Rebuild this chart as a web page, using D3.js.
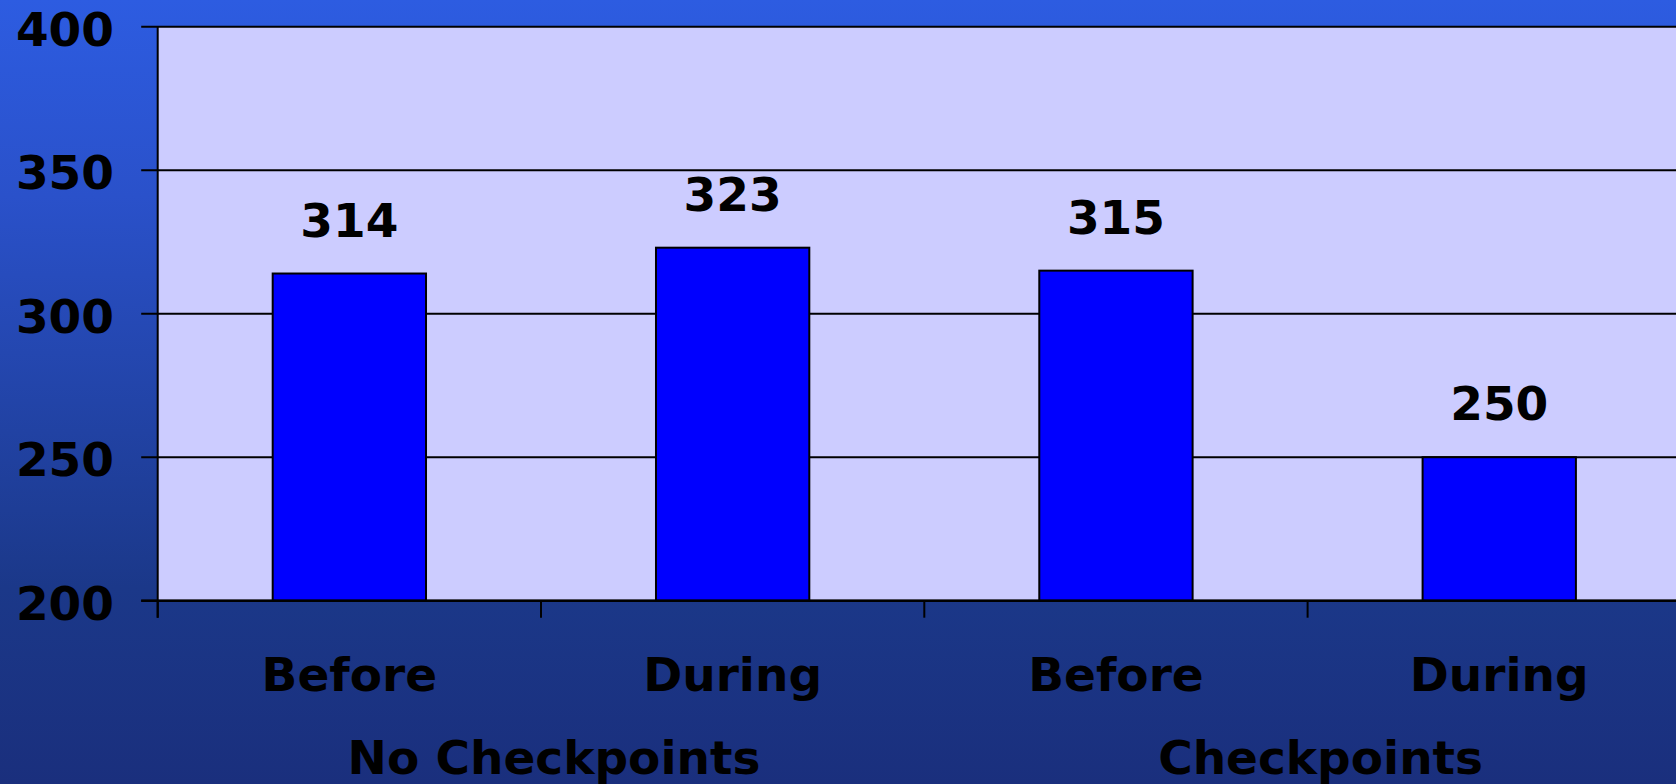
<!DOCTYPE html>
<html>
<head>
<meta charset="utf-8">
<script src="https://cdn.jsdelivr.net/npm/d3@7/dist/d3.min.js"></script>
<style>
html,body{margin:0;padding:0;overflow:hidden;}
svg{display:block;}
text{font-family:"DejaVu Sans",Verdana,sans-serif;font-weight:bold;fill:#000;}
</style>
</head>
<body>
<svg id="chart" width="1676" height="784"></svg>
<script>
const categories = ["Before", "During", "Before", "During"];
const groups = ["No Checkpoints", "Checkpoints"];
const groupOf = [0, 0, 1, 1];
const values = [314, 323, 315, 250];
const yTicks = [200, 250, 300, 350, 400];

(function () {
const W = 1676, H = 784;
const mLeft = 157.7, mTop = 26.7, mBottom = 600.7;
const step = 383.3;
const mRight = mLeft + step * categories.length;
const fs = 47;

const svg = d3.select("#chart");
const defs = svg.append("defs");
const grad = defs.append("linearGradient").attr("id", "bg").attr("x1", 0).attr("y1", 0).attr("x2", 0).attr("y2", 1);
grad.append("stop").attr("offset", "0%").attr("stop-color", "#2D5CE1");
grad.append("stop").attr("offset", "25%").attr("stop-color", "#2A51CA");
grad.append("stop").attr("offset", "75%").attr("stop-color", "#1B3889");
grad.append("stop").attr("offset", "100%").attr("stop-color", "#1A2F7D");
svg.append("rect").attr("width", W).attr("height", H).attr("fill", "url(#bg)");

const x = d3.scaleBand().domain(d3.range(categories.length)).range([mLeft, mRight]).padding(0);
const y = d3.scaleLinear().domain([200, 400]).range([mBottom, mTop]);

// plot area
svg.append("rect").attr("x", mLeft).attr("y", mTop).attr("width", mRight - mLeft).attr("height", mBottom - mTop).attr("fill", "#CCCCFF");

// gridlines
svg.append("g").selectAll("line").data(yTicks).join("line")
  .attr("x1", mLeft - 16.5).attr("x2", mRight)
  .attr("y1", d => y(d)).attr("y2", d => y(d))
  .attr("stroke", "#000").attr("stroke-width", 2);

// bars
const bw = x.bandwidth() * 0.4;
svg.append("g").selectAll("rect").data(values).join("rect")
  .attr("x", (d, i) => x(i) + (x.bandwidth() - bw) / 2)
  .attr("y", d => y(d))
  .attr("width", bw)
  .attr("height", d => y(200) - y(d))
  .attr("fill", "#0000FF").attr("stroke", "#000").attr("stroke-width", 2);

// axes lines
svg.append("line").attr("x1", mLeft).attr("x2", mLeft).attr("y1", mTop).attr("y2", mBottom + 17)
  .attr("stroke", "#000").attr("stroke-width", 2);
svg.append("line").attr("x1", mLeft - 16.5).attr("x2", mRight).attr("y1", mBottom).attr("y2", mBottom)
  .attr("stroke", "#000").attr("stroke-width", 2.5);
// category ticks
svg.append("g").selectAll("line").data(d3.range(categories.length + 1)).join("line")
  .attr("x1", i => mLeft + i * x.step()).attr("x2", i => mLeft + i * x.step())
  .attr("y1", mBottom).attr("y2", mBottom + 17)
  .attr("stroke", "#000").attr("stroke-width", 2);

// y tick labels
svg.append("g").selectAll("text").data(yTicks).join("text")
  .attr("x", 114).attr("y", d => y(d) + 19)
  .attr("text-anchor", "end").attr("font-size", fs)
  .text(d => d);

// value labels
svg.append("g").selectAll("text").data(values).join("text")
  .attr("x", (d, i) => x(i) + x.bandwidth() / 2)
  .attr("y", d => y(d) - 37)
  .attr("text-anchor", "middle").attr("font-size", fs)
  .text(d => d);

// category labels
svg.append("g").selectAll("text").data(categories).join("text")
  .attr("x", (d, i) => x(i) + x.bandwidth() / 2)
  .attr("y", mBottom + 90.5)
  .attr("text-anchor", "middle").attr("font-size", fs)
  .text(d => d);

// group labels
svg.append("g").selectAll("text").data(groups).join("text")
  .attr("x", (g, gi) => {
    const idx = d3.range(categories.length).filter(i => groupOf[i] === gi);
    return (x(idx[0]) + x(idx[idx.length - 1]) + x.bandwidth()) / 2 + 13;
  })
  .attr("y", 774)
  .attr("text-anchor", "middle").attr("font-size", fs)
  .text(d => d);
})();
</script>
</body>
</html>
